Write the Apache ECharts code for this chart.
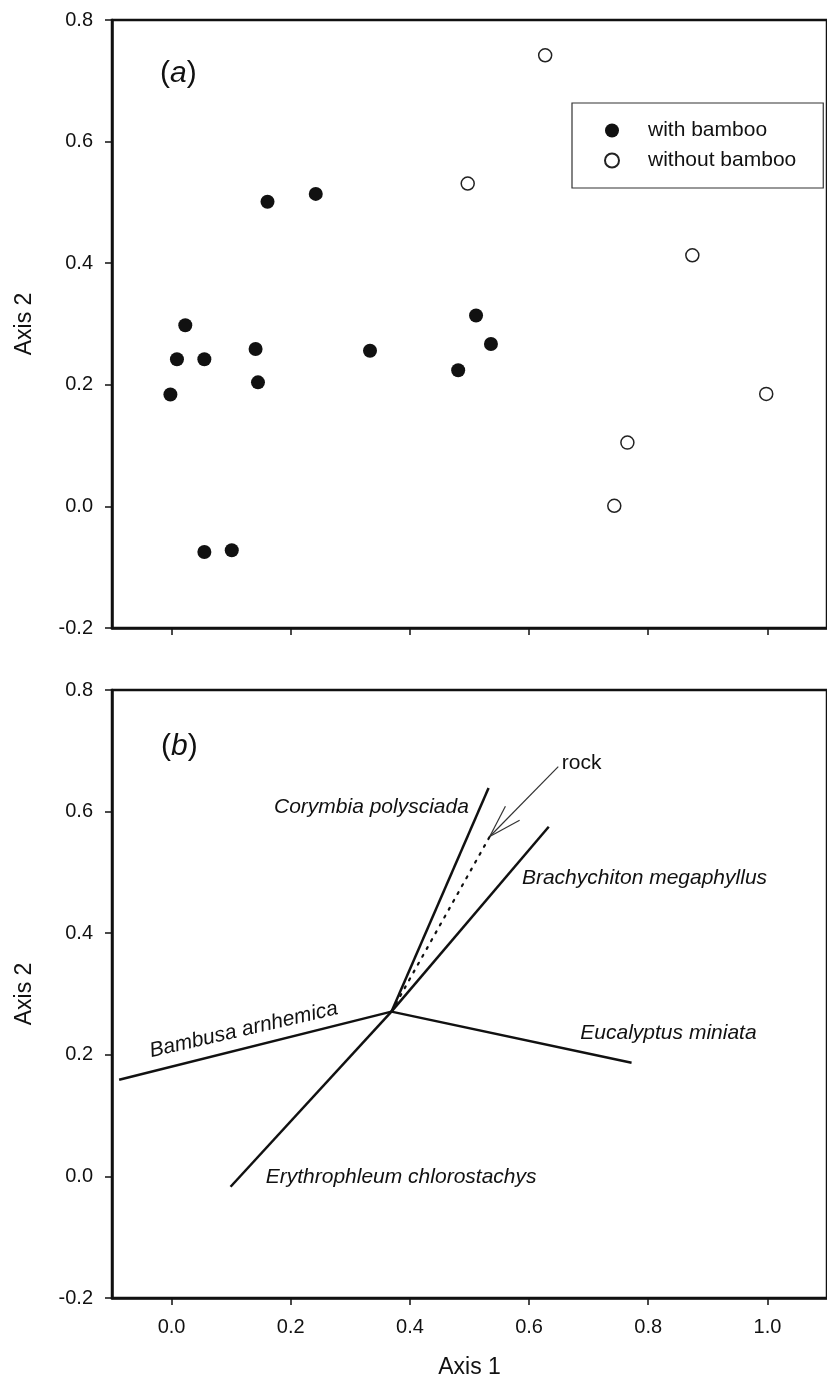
<!DOCTYPE html>
<html>
<head>
<meta charset="utf-8">
<script src="https://cdn.jsdelivr.net/npm/echarts@6/dist/echarts.min.js"></script>
<style>
  html, body { margin: 0; padding: 0; background: #fff; }
  #chart { width: 827px; height: 1386px; }
</style>
</head>
<body>
<div id="chart"></div>
<script>
// panel (a): sample scores
var bambooX = [0.161, 0.242, 0.023, 0.009, 0.055, 0.141, 0.145, -0.002, 0.333, 0.511, 0.536, 0.481, 0.055, 0.101];
var bambooY = [0.501, 0.514, 0.298, 0.242, 0.242, 0.259, 0.204, 0.184, 0.256, 0.314, 0.267, 0.224, -0.075, -0.072];
var noBambooX = [0.627, 0.497, 0.874, 0.765, 0.743, 0.998];
var noBambooY = [0.742, 0.531, 0.413, 0.105, 0.001, 0.185];

// panel (b): species vectors
var origin = [0.369, 0.271];
var vectorNames = ['Corymbia polysciada', 'Brachychiton megaphyllus', 'Bambusa arnhemica', 'Eucalyptus miniata', 'Erythrophleum chlorostachys'];
var vectorEndX = [0.532, 0.633, -0.088, 0.772, 0.099];
var vectorEndY = [0.639, 0.575, 0.159, 0.187, -0.017];
var rockEnd = [0.534, 0.559];
var rockArrowTail = [0.649, 0.674];

// label anchors for panel (b)
var labelNames = ['Corymbia polysciada', 'Brachychiton megaphyllus', 'Bambusa arnhemica', 'Eucalyptus miniata', 'Erythrophleum chlorostachys', 'rock'];
var labelX = [0.499, 0.588, 0.121, 0.686, 0.158, 0.655];
var labelY = [0.608, 0.491, 0.241, 0.236, -0.001, 0.680];
var labelAlign = ['right', 'left', 'center', 'left', 'left', 'left'];
var labelRotate = [0, 0, 13, 0, 0, 0];
var labelItalic = [true, true, true, true, true, false];

var xTicks = [0, 0.2, 0.4, 0.6, 0.8, 1.0];

var FONT = "'Liberation Sans', Arial, sans-serif";
var INK = '#111';

function fmt(v) {
    return Number(v).toFixed(1);
}

function yAxisCfg(idx) {
    return {
        type: 'value',
        gridIndex: idx,
        min: -0.2,
        max: 0.8,
        interval: 0.2,
        name: 'Axis 2',
        nameLocation: 'middle',
        nameGap: 76,
        nameTextStyle: { fontFamily: FONT, fontSize: 23, color: INK },
        axisLine: { show: true, onZero: false, lineStyle: { color: INK, width: 2.5 } },
        axisTick: { show: true, inside: false, length: 7, lineStyle: { color: INK, width: 1.5 } },
        axisLabel: { formatter: fmt, fontFamily: FONT, fontSize: 20, color: INK, margin: 19 },
        splitLine: { show: false }
    };
}

function xAxisCfg(idx, withLabels) {
    var cfg = {
        type: 'value',
        gridIndex: idx,
        min: -0.1,
        max: 1.1,
        axisLine: { show: true, onZero: false, lineStyle: { color: INK, width: 2.5 } },
        axisTick: { show: true, inside: false, length: 7, customValues: xTicks, lineStyle: { color: INK, width: 1.5 } },
        axisLabel: { show: withLabels, customValues: xTicks, formatter: fmt, fontFamily: FONT, fontSize: 20, color: INK, margin: 19 },
        splitLine: { show: false }
    };
    if (withLabels) {
        cfg.name = 'Axis 1';
        cfg.nameLocation = 'middle';
        cfg.nameGap = 58;
        cfg.nameTextStyle = { fontFamily: FONT, fontSize: 23, color: INK };
    }
    return cfg;
}

function zip(xs, ys) {
    return xs.map(function (x, i) { return [x, ys[i]]; });
}

var series = [];

series.push({
    name: 'with bamboo',
    type: 'scatter',
    xAxisIndex: 0,
    yAxisIndex: 0,
    symbol: 'circle',
    symbolSize: 14,
    itemStyle: { color: INK, opacity: 1 },
    data: zip(bambooX, bambooY)
});
series.push({
    name: 'without bamboo',
    type: 'scatter',
    xAxisIndex: 0,
    yAxisIndex: 0,
    symbol: 'circle',
    symbolSize: 13,
    itemStyle: { color: '#fff', borderColor: '#222', borderWidth: 1.5, opacity: 1 },
    data: zip(noBambooX, noBambooY)
});

vectorNames.forEach(function (name, i) {
    series.push({
        name: name,
        type: 'line',
        xAxisIndex: 1,
        yAxisIndex: 1,
        showSymbol: false,
        symbol: 'none',
        lineStyle: { color: INK, width: 2.5 },
        data: [origin, [vectorEndX[i], vectorEndY[i]]]
    });
});

series.push({
    name: 'rock',
    type: 'line',
    xAxisIndex: 1,
    yAxisIndex: 1,
    symbol: 'none',
    lineStyle: { color: INK, width: 2.2, type: [2, 7], cap: 'round' },
    data: [origin, rockEnd]
});

// pointer arrow to the rock vector
series.push({
    type: 'custom',
    xAxisIndex: 1,
    yAxisIndex: 1,
    encode: { x: [0, 2], y: [1, 3] },
    data: [[rockArrowTail[0], rockArrowTail[1], rockEnd[0], rockEnd[1]]],
    renderItem: function (params, api) {
        var a = api.coord([api.value(0), api.value(1)]);
        var b = api.coord([api.value(2), api.value(3)]);
        var ang = Math.atan2(a[1] - b[1], a[0] - b[0]);
        var len = 34, spread = 17 * Math.PI / 180;
        var st = { stroke: '#333', lineWidth: 1.2 };
        return {
            type: 'group',
            children: [
                { type: 'line', shape: { x1: a[0], y1: a[1], x2: b[0], y2: b[1] }, style: st },
                { type: 'line', shape: { x1: b[0], y1: b[1], x2: b[0] + len * Math.cos(ang + spread), y2: b[1] + len * Math.sin(ang + spread) }, style: st },
                { type: 'line', shape: { x1: b[0], y1: b[1], x2: b[0] + len * Math.cos(ang - spread), y2: b[1] + len * Math.sin(ang - spread) }, style: st }
            ]
        };
    }
});

series.push({
    type: 'scatter',
    xAxisIndex: 1,
    yAxisIndex: 1,
    symbolSize: 0,
    silent: true,
    itemStyle: { opacity: 1 },
    data: labelNames.map(function (name, i) {
        return {
            name: name,
            value: [labelX[i], labelY[i]],
            label: {
                show: true,
                position: 'inside',
                formatter: name,
                align: labelAlign[i],
                verticalAlign: 'middle',
                rotate: labelRotate[i],
                fontStyle: labelItalic[i] ? 'italic' : 'normal',
                fontFamily: FONT,
                fontSize: 21,
                color: INK,
                opacity: 1
            }
        };
    })
});

var tagRich = {
    p: { fontFamily: FONT, fontSize: 30, fontWeight: 'normal', color: INK },
    i: { fontFamily: FONT, fontSize: 30, fontWeight: 'normal', fontStyle: 'italic', color: INK }
};

var chart = echarts.init(document.getElementById('chart'));
chart.setOption({
    animation: false,
    backgroundColor: '#fff',
    title: [{
        text: '{p|(}{i|a}{p|)}',
        left: 155,
        top: 54,
        textStyle: { fontWeight: 'normal', rich: tagRich }
    }, {
        text: '{p|(}{i|b}{p|)}',
        left: 156,
        top: 727,
        textStyle: { fontWeight: 'normal', rich: tagRich }
    }],
    legend: {
        data: ['with bamboo', 'without bamboo'],
        orient: 'vertical',
        left: 572,
        top: 103,
        icon: 'circle',
        itemWidth: 62,
        itemHeight: 14,
        itemGap: 9,
        padding: [17, 27, 17, 32],
        borderColor: '#333',
        borderWidth: 1.2,
        textStyle: { fontFamily: FONT, fontSize: 21, color: INK },
        selectedMode: false
    },
    grid: [
        { left: 112, top: 20, width: 721, height: 608, show: true, borderColor: INK, borderWidth: 2.5, backgroundColor: 'transparent' },
        { left: 112, top: 690, width: 721, height: 608, show: true, borderColor: INK, borderWidth: 2.5, backgroundColor: 'transparent' }
    ],
    xAxis: [xAxisCfg(0, false), xAxisCfg(1, true)],
    yAxis: [yAxisCfg(0), yAxisCfg(1)],
    series: series
});
</script>
</body>
</html>
